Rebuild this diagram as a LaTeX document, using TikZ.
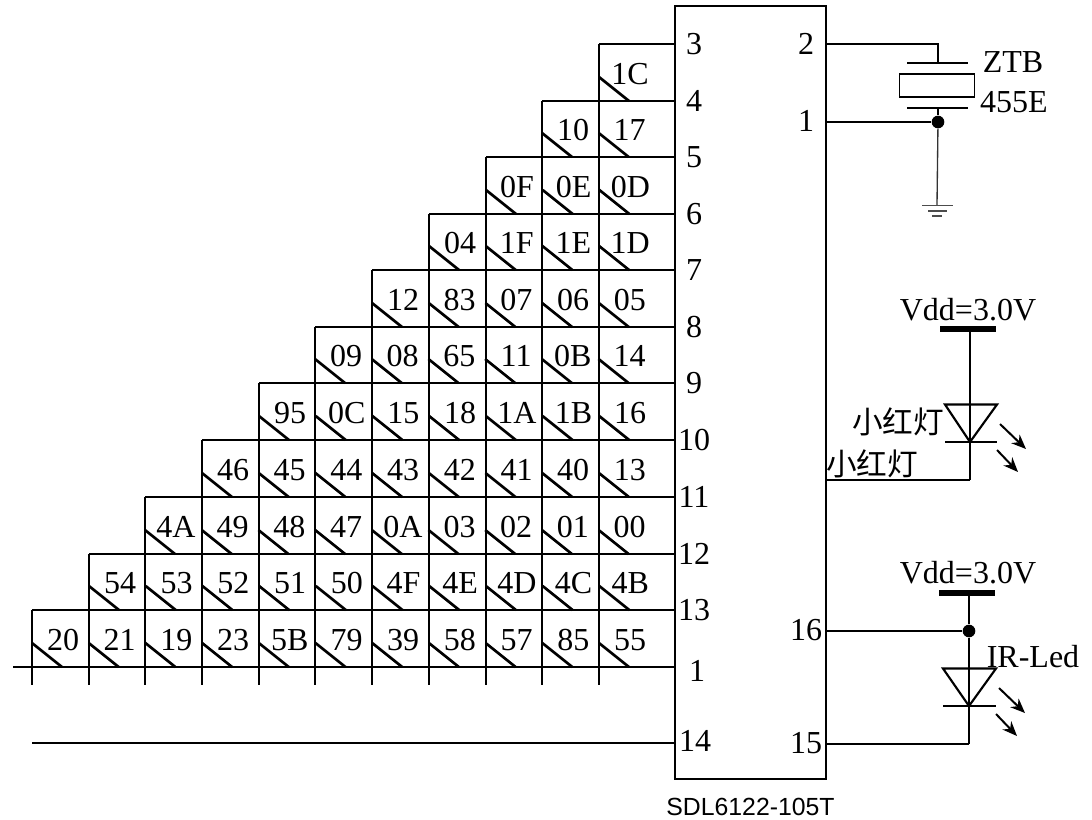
\documentclass[tikz,border=0pt]{standalone}
\usepackage{fontspec}
\setmainfont{Liberation Serif}
\newfontfamily\cjkfont{Noto Sans CJK SC}[Scale=1]
\newfontfamily\arialfont{Liberation Sans}
\usetikzlibrary{arrows.meta}
\tikzset{
  wire/.style={line width=1.6pt,line cap=butt},
  diag/.style={line width=2pt,line cap=butt},
  thinwire/.style={line width=1pt},
  gnd/.style={line width=1pt,black!70},
  rail/.style={line width=4.5pt},
  junction/.style={circle,fill=black,inner sep=0pt,minimum size=9.5pt},
  cell/.style={inner sep=0pt,font=\fontsize{24}{26}\selectfont},
  pin/.style={inner sep=0pt,font=\fontsize{24}{26}\selectfont},
  chiplabel/.style={inner sep=0pt,font=\fontsize{24}{26}\selectfont},
  cjklabel/.style={inner sep=0pt,font=\fontsize{23}{25}\selectfont\cjkfont},
  emit/.style={line width=1.5pt,-{Stealth[length=11pt,width=9pt]}},
  chipbox/.style={draw,line width=1.6pt,minimum width=113.25pt,minimum height=579.75pt,inner sep=0pt},
  xtal/.style={draw,line width=0.9pt,minimum width=56.5pt,minimum height=17.25pt,inner sep=0pt}
}
\begin{document}
\begin{tikzpicture}[x=0.75pt,y=-0.75pt]
\useasboundingbox (0,0) rectangle (1092,819);
% chip
\node[chipbox] (chip) at (750.5,392.5) {};
% left pins
\foreach \nm/\yy/\lab in {p3/44/3,p4/101/4,p5/157/5,p6/214/6,p7/270/7,p8/327/8,p9/383/9,p10/440/10,p11/497/11,p12/554/12,p13/610/13}{
  \coordinate (\nm) at (chip.west |- 0,\yy);
  \node[pin] (lab\nm) at (694,\yy) {\lab};
}
\coordinate (p1) at (chip.west |- 0,667);
\node[pin] (labp1) at (697,671) {1};
\coordinate (p14) at (chip.west |- 0,743);
\node[pin] (labp14) at (695,741) {14};
% matrix
\foreach \nm/\xx in {p3/599,p4/542,p5/486,p6/429,p7/372,p8/315,p9/259,p10/202,p11/145,p12/89,p13/32}{
  \coordinate (s\nm) at (\xx,0 |- \nm);
  \draw[wire] (s\nm) -- (\nm);
  \coordinate (e\nm) at (\xx,685);
  \draw[wire] (s\nm) -- (e\nm);
}
\coordinate (sp1) at (13,667);
\draw[wire] (sp1) -- (p1);
\coordinate (sp14) at (32,743);
\draw[wire] (sp14) -- (p14);
% keys
\foreach \row/\yy/\first/\labs in {
 a/101/599/{1C},
 b/157/542/{10,17},
 c/214/486/{0F,0E,0D},
 d/270/429/{04,1F,1E,1D},
 e/327/372/{12,83,07,06,05},
 f/383/315/{09,08,65,11,0B,14},
 g/440/259/{95,0C,15,18,1A,1B,16},
 h/497/202/{46,45,44,43,42,41,40,13},
 i/554/145/{4A,49,48,47,0A,03,02,01,00},
 j/610/89/{54,53,52,51,50,4F,4E,4D,4C,4B},
 k/667/32/{20,21,19,23,5B,79,39,58,57,85,55}}{
  \foreach \t [count=\i from 0] in \labs {
    \pgfmathsetmacro{\cx}{\first+56.7*\i}
    \draw[diag] (\cx,\yy-24) -- (\cx+30,\yy);
    \node[cell] (key\row\i) at (\cx+31,\yy-27) {\t};
  }
}
% right pins
\foreach \nm/\yy/\lab/\ly in {q2/44/2/44,q1/122/1/121,q16/631/16/630,q15/744/15/743}{
  \coordinate (\nm) at (chip.east |- 0,\yy);
  \node[pin] (lab\nm) at (806,\ly) {\lab};
}
% crystal
\node[xtal] (xt) at (937,85.5) {};
\coordinate (xtop) at (938,63);
\coordinate (xbot) at (938,108);
\coordinate (xcorner) at (938,44);
\draw[wire] (q2) -- (xcorner) -- (xtop);
\draw[thinwire] (907,63) -- (968,63);
\draw[thinwire] (907,108) -- (968,108);
\node[junction] (j1) at (938,122) {};
\draw[wire] (xbot) -- (j1);
\draw[wire] (q1) -- (j1);
\coordinate (gndtop) at (937,205);
\draw[thinwire,black!80] (j1) -- (gndtop);
\draw[gnd] (922,205.5) -- (953,205.5);
\draw[gnd] (928,211) -- (947,211);
\draw[gnd] (932,216) -- (942,216);
\node[chiplabel] (ztb) at (1013,62) {ZTB};
\node[chiplabel] (e455) at (1014,102) {455E};
% LED 1
\node[chiplabel] (vdd1) at (968,310) {Vdd=3.0V};
\coordinate (rail1) at (970,329);
\draw[rail] (940,329) -- (996,329);
\coordinate (k1) at (970,442);
\coordinate (c1) at (970,480);
\draw[wire] (rail1) -- (c1);
\draw[wire] (q1 |- c1) -- (c1);
\draw[wire] (945,404.5) -- (997,404.5) -- (k1) -- cycle;
\draw[wire] (945,442) -- (997,442);
\draw[emit] (1000,424) -- (1026,449);
\draw[emit] (997,450) -- (1018,472);
\node[cjklabel] (red1) at (898,422) {小红灯};
\node[cjklabel] (red2) at (872,464) {小红灯};
% LED 2
\node[chiplabel] (vdd2) at (968,573) {Vdd=3.0V};
\coordinate (rail2) at (969,593);
\draw[rail] (939,593) -- (995,593);
\node[junction] (j2) at (969,631) {};
\coordinate (k2) at (969,706);
\coordinate (c2) at (969,744);
\draw[wire] (rail2) -- (j2);
\draw[wire] (j2) -- (c2);
\draw[wire] (q16) -- (j2);
\draw[wire] (q15) -- (c2);
\draw[wire] (943,668.5) -- (996,668.5) -- (k2) -- cycle;
\draw[wire] (943,706) -- (996,706);
\draw[emit] (999,688) -- (1025,713);
\draw[emit] (996,714) -- (1017,736);
\node[chiplabel] (irled) at (1033,657) {IR-Led};
% part number
\node[inner sep=0pt,font=\fontsize{18.6}{20}\selectfont\arialfont] (part) at (750.5,807) {SDL6122-105T};
\end{tikzpicture}
\end{document}
